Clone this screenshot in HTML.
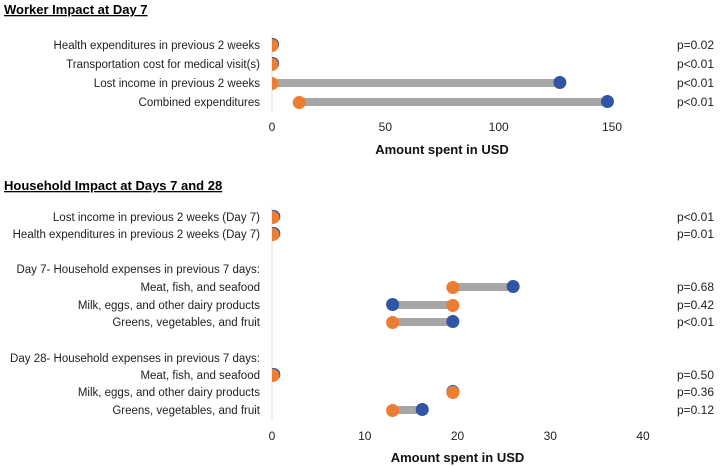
<!DOCTYPE html>
<html><head><meta charset="utf-8"><style>
body{margin:0;background:#fff}
svg{display:block;font-family:"Liberation Sans",sans-serif}
</style></head><body>
<svg id="c" width="720" height="466" viewBox="0 0 720 466">
<defs><clipPath id="clipPlot"><rect x="272" y="0" width="448" height="466"/></clipPath></defs>
<text x="4" y="14" font-size="13" font-weight="bold" text-decoration="underline">Worker Impact at Day 7</text>
<text x="4" y="190" font-size="13" font-weight="bold" text-decoration="underline">Household Impact at Days 7 and 28</text>
</svg>
<script>
const topLabels=["Health expenditures in previous 2 weeks","Transportation cost for medical visit(s)","Lost income in previous 2 weeks","Combined expenditures"];
const topBlue=[0.3,0.3,127,148];
const topOrange=[0,0,0,12];
const topP=["p=0.02","p<0.01","p<0.01","p<0.01"];
const topTicks=[0,50,100,150];
const botLabels=["Lost income in previous 2 weeks (Day 7)","Health expenditures in previous 2 weeks (Day 7)","Day 7- Household expenses in previous 7 days:","Meat, fish, and seafood","Milk, eggs, and other dairy products","Greens, vegetables, and fruit","Day 28- Household expenses in previous 7 days:","Meat, fish, and seafood","Milk, eggs, and other dairy products","Greens, vegetables, and fruit"];
const botBlue=[0.2,0.2,null,26,13,19.5,null,0.2,19.5,16.2];
const botOrange=[0.1,0.1,null,19.5,19.5,13,null,0.1,19.5,13];
const botP=["p<0.01","p=0.01","","p=0.68","p=0.42","p<0.01","","p=0.50","p=0.36","p=0.12"];
const botTicks=[0,10,20,30,40];

const svg=document.getElementById('c');
const NS='http://www.w3.org/2000/svg';
function mk(tag,a,parent){const e=document.createElementNS(NS,tag);for(const k in a)e.setAttribute(k,a[k]);(parent||svg).appendChild(e);return e;}
function panel(name,labels,blue,orange,pv,ticks,x0,ppu,rowY,axisTop,axisBot,tickY,titleY){
  const xs=v=>x0+v*ppu;
  const ax=mk('line',{x1:x0,x2:x0,y1:axisTop,y2:axisBot,stroke:'#d9d9d9','stroke-width':1});
  
  
  const g=mk('g',{'clip-path':'url(#clipPlot)'});
  
  
  labels.forEach((l,i)=>{
    const y=rowY(i);
    const t=mk('text',{x:260,y:y+4,'font-size':11.5,'text-anchor':'end',fill:'#222'});t.textContent=l;
    
    
    if(pv[i]){const p=mk('text',{x:714,y:y+4,'font-size':12,'text-anchor':'end',fill:'#222'});p.textContent=pv[i];
      
      }
    if(blue[i]==null)return;
    const a=Math.min(blue[i],orange[i]),b=Math.max(blue[i],orange[i]);
    const bar=mk('line',{x1:xs(a),x2:xs(b),y1:y,y2:y,stroke:'#a6a6a6','stroke-width':8},g);
    
    
    const cb=mk('circle',{cx:xs(blue[i]),cy:y-0.5,r:6.5,fill:'#2f55a4'},g);
    
    
    const co=mk('circle',{cx:xs(orange[i]),cy:y+0.5,r:6.5,fill:'#ed7d31'},g);
    
    
  });
  ticks.forEach(v=>{const t=mk('text',{x:xs(v),y:tickY,'font-size':12,'text-anchor':'middle',fill:'#222'});t.textContent=v;
    
    });
  const tt=mk('text',{x:(xs(ticks[ticks.length-1])+x0)/2,y:titleY,'font-size':13,'font-weight':'bold','text-anchor':'middle',fill:'#111'});
  tt.textContent='Amount spent in USD';
  
  
}
panel('worker',topLabels,topBlue,topOrange,topP,topTicks,272,(612-272)/150,i=>45+i*19,35,112,131,154);
const by=[217,234,269,287,305,322,358,375,392,410];
panel('household',botLabels,botBlue,botOrange,botP,botTicks,272,(643-272)/40,i=>by[i],207,419,440,462);
</script>
</body></html>
